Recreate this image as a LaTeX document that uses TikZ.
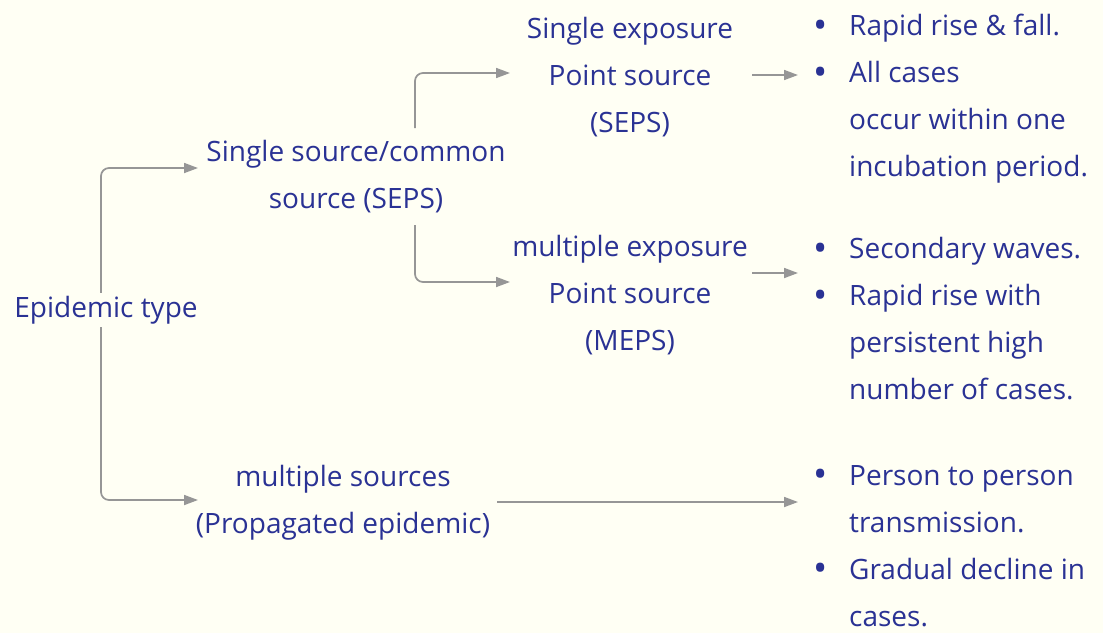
\documentclass[tikz,border=0pt]{standalone}
\usepackage{fontspec}
\setmainfont{Open Sans}
\usetikzlibrary{arrows.meta}
\definecolor{ink}{RGB}{42,50,148}
\definecolor{paper}{RGB}{255,255,244}
\definecolor{wire}{RGB}{150,150,150}
\tikzset{
  lbl/.style={text=ink, font=\fontsize{28}{47}\selectfont, align=center, inner sep=3pt},
  pts/.style={lbl, align=left, anchor=west, inner sep=1pt},
  arr/.style={draw=wire, line width=1.7pt, rounded corners=8pt,
              -{Triangle[length=14pt,width=10pt]}}
}
\newcommand{\bul}{\makebox[36pt][l]{\raisebox{-0.08em}{\scalebox{1.35}{\textbullet}}}}
\newcommand{\ind}{\hspace*{36pt}}
\begin{document}
\begin{tikzpicture}[x=1pt,y=-1pt]
  \fill[paper] (0,0) rectangle (1103,633);
  \useasboundingbox (0,0) rectangle (1103,633);

  % labels
  \node[lbl] (et) at (106,310) {Epidemic type};
  \node[lbl] (ss) at (356,177) {Single source/common\\source (SEPS)};
  \node[lbl] (se) at (630,77)  {Single exposure\\Point source\\(SEPS)};
  \node[lbl] (me) at (630,295) {multiple exposure\\Point source\\(MEPS)};
  \node[lbl] (ms) at (343,503) {multiple sources\\(Propagated epidemic)};

  % characteristics
  \node[pts] (b1) at (812,99)  {\bul Rapid rise \& fall.\\\bul All cases\\\ind occur within one\\\ind incubation period.};
  \node[pts] (b2) at (812,319) {\bul Secondary waves.\\\bul Rapid rise with\\\ind persistent high\\\ind number of cases.};
  \node[pts] (b3) at (812,546) {\bul Person to person\\\ind transmission.\\\bul Gradual decline in\\\ind cases.};

  % arrow end points
  \coordinate (ssin) at (198,168);
  \coordinate (msin) at (198,500);
  \coordinate (ssup) at (415,128);
  \coordinate (ssdn) at (415,225);
  \coordinate (sein) at (510,73);
  \coordinate (mein) at (510,282);
  \coordinate (seout) at (752,75);
  \coordinate (b1in) at (798,75);
  \coordinate (meout) at (752,273);
  \coordinate (b2in) at (798,273);
  \coordinate (msout) at (497,502);
  \coordinate (b3in) at (798,502);
  \coordinate (etx) at (101,0);

  % connectors
  \draw[arr] (et.north -| etx) |- (ssin);
  \draw[arr] (et.south -| etx) |- (msin);
  \draw[arr] (ssup) |- (sein);
  \draw[arr] (ssdn) |- (mein);
  \draw[arr] (seout) -- (b1in);
  \draw[arr] (meout) -- (b2in);
  \draw[arr] (msout) -- (b3in);
\end{tikzpicture}
\end{document}
